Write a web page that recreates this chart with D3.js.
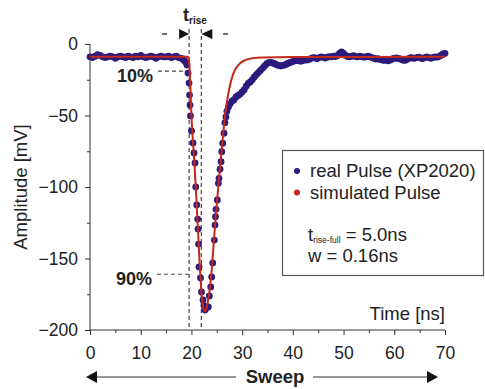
<!DOCTYPE html>
<html><head><meta charset="utf-8">
<script src="https://cdn.jsdelivr.net/npm/d3@7"></script>
<style>body{margin:0;background:#fff}svg{display:block}text{font-family:"Liberation Sans",Arial,sans-serif;fill:#222}</style>
</head><body><svg id="c" width="485" height="389"></svg>
<script>
// ---- data ----
const xTicks = [0,10,20,30,40,50,60,70];
const xMinorTicks = [5,15,25,35,45,55,65];
const yTicks = [0,-50,-100,-150,-200];
const yMinorTicks = [-25,-75,-125,-175];
// real pulse samples [time ns, amplitude mV]
const realPulse = [
[0,-9],[0.5,-9.5],[1,-8.5],[1.5,-7.5],[2,-8],[2.5,-9],[3,-9.5],[3.5,-9],[4,-8.5],[4.5,-9],[5,-10],[5.5,-9],[6,-8.5],[6.5,-9],[7,-9.5],[7.5,-8.5],[8,-9],[8.5,-9.5],[9,-8.5],[9.5,-9],[10,-8],[10.5,-9],[11,-9.5],[11.5,-9],[12,-8.5],[12.5,-9],[13,-10],[13.5,-9],[14,-8.5],[14.5,-9],[15,-9],[15.5,-8.5],[16,-9.5],[16.5,-9],[17,-8.5],[17.5,-9.5],[18,-10],
[18.3,-10.5],[18.6,-11.5],[18.9,-13],[19.13,-14.7],[19.33,-20.3],[19.53,-27.3],[19.63,-35.7],[19.72,-42.7],[19.82,-50.3],[20.02,-60.8],[20.32,-69.2],[20.51,-76.2],[20.71,-83.2],[20.85,-100],[21.05,-112.6],[21.24,-122.4],[21.3,-129.4],[21.4,-139.9],[21.5,-155.9],[21.79,-163.6],[21.99,-173.4],[22.29,-179],[22.49,-183.2],[22.68,-186],[22.88,-184.6],
[23.33,-183.9],[23.53,-176.2],[23.81,-169.9],[24.0,-162.9],[24.2,-153.1],[24.52,-137.1],[24.65,-126.6],[24.75,-120.8],[24.85,-115.6],[25.11,-109.1],[25.31,-97.4],[25.44,-93.9],[25.64,-87.6],[25.84,-82.3],[25.98,-75.3],[26.17,-69.4],[26.43,-62.4],
[26.6,-55],[26.8,-51],[27.0,-47],[27.3,-44],[27.6,-42],[28.0,-40],[28.4,-39],[28.8,-37],[29.2,-36],[29.6,-35],[30.0,-33.5],[30.4,-32],[30.8,-29.5],[31.2,-27.5],[31.6,-26.5],[32.0,-25],[32.4,-23],[32.8,-21.5],[33.2,-20],[33.6,-18.5],[34.0,-17],[34.4,-15.5],[34.8,-14],[35.2,-13],[35.6,-12.8],[36.0,-13.2],[36.4,-13.8],[36.8,-14.5],[37.2,-15],[37.6,-15.3],[38.0,-15],[38.4,-14.6],[38.8,-14],[39.2,-13.3],[39.6,-12.8],[40.0,-12.2],[40.4,-11.8],[40.8,-11.5],[41.2,-11.8],[41.6,-12],[42.0,-11.5],[42.4,-11],[42.8,-11.2],[43.2,-10.8],[43.6,-10],[44.0,-9.5],[44.4,-9.8],[44.8,-10.2],[45.2,-9.5],[45.6,-9],[46.0,-9.3],[46.4,-9.8],[46.8,-9.2],[47.2,-8.8],[47.6,-9],[48.0,-8.5],[48.4,-8.8],[48.8,-8],[49.2,-6.5],[49.6,-5.5],[50.0,-6.5],[50.4,-8],[50.8,-8.8],[51.2,-9],[51.6,-8.5],[52.0,-8.2],[52.4,-8.8],[52.8,-9],[53.2,-8.5],[53.6,-8.8],[54.0,-9.2],[54.4,-9],[54.8,-8.5],[55.2,-9],[55.6,-9.5],[56.0,-10],[56.4,-10.5],[56.8,-10.2],[57.2,-10.8],[57.6,-11],[58.0,-11.5],[58.4,-11],[58.8,-11.8],[59.2,-11.2],[59.6,-10.5],[60.0,-10],[60.4,-9.8],[60.8,-10.2],[61.2,-10.5],[61.6,-11],[62.0,-11.5],[62.4,-11],[62.8,-10.2],[63.2,-9.5],[63.6,-9.8],[64.0,-10],[64.4,-9.5],[64.8,-9.2],[65.2,-9.8],[65.6,-10.2],[66.0,-9.5],[66.4,-9],[66.8,-9.5],[67.2,-10],[67.6,-9.5],[68.0,-9],[68.4,-9.2],[68.8,-8.8],[69.2,-8],[69.6,-7],[70.0,-6.5]
];
// simulated pulse curve [time ns, amplitude mV]
const simPulse = [
[0,-9],[19.3,-9],[19.45,-10.5],[19.6,-16],[19.8,-30],[20.0,-50],[20.3,-68],[20.6,-84],[21.0,-110],[21.5,-145],[21.9,-170],[22.2,-181],[22.5,-186],[22.7,-187],[22.9,-186],[23.2,-181],[23.6,-172],[24.0,-158],[24.5,-134],[25.0,-112],[25.5,-92],[26.0,-73],[26.4,-58],[26.6,-51],[27.2,-36],[27.8,-26],[28.6,-18],[29.6,-13.5],[30.6,-11.3],[32,-10],[34,-9.4],[40,-9.1],[70,-9]
];
const riseMarks = [19.55, 21.95];   // dashed vertical lines (ns)
const levelMarks = [{label:"10%", v:-19, t0:13.4},{label:"90%", v:-161, t0:13.2}];
const legendItems = [{label:"real Pulse (XP2020)", color:"#2c1b7c"},{label:"simulated Pulse", color:"#c42a1c"}];

// ---- chart ----
const svg = d3.select("#c");
const x = d3.scaleLinear().domain([0,70]).range([90,445]);
const y = d3.scaleLinear().domain([-200,0]).range([330,44]);
const blue = "#2c1b7c", red = "#c42a1c", axisCol = "#333";

// axes
const gx = svg.append("g").attr("transform","translate(0,330)")
  .call(d3.axisBottom(x).tickValues(xTicks).tickSize(5).tickPadding(12).tickFormat(d3.format("d")));
svg.append("g").attr("transform","translate(0,330)")
  .call(d3.axisBottom(x).tickValues(xMinorTicks).tickSize(3).tickFormat("")).select(".domain").remove();
const gy = svg.append("g").attr("transform","translate(90,0)")
  .call(d3.axisLeft(y).tickValues(yTicks).tickSize(5).tickPadding(7).tickFormat(d3.format("d")));
svg.append("g").attr("transform","translate(90,0)")
  .call(d3.axisLeft(y).tickValues(yMinorTicks).tickSize(3).tickFormat("")).select(".domain").remove();
svg.selectAll(".domain").attr("stroke",axisCol);
gx.select(".domain").attr("d",`M${x(0)},0H${x(70)}`);
gy.select(".domain").attr("d",`M0,${y(-200)}V${y(0)}`);
svg.selectAll(".tick line").attr("stroke",axisCol);
svg.selectAll(".tick text").style("font-size","17.5px").style("font-family","'Liberation Sans',Arial,sans-serif").attr("fill","#222");

// axis titles
svg.append("text").attr("transform",`translate(27,${y(-100)}) rotate(-90)`).attr("text-anchor","middle")
  .style("font-size","18.5px").text("Amplitude [mV]");
svg.append("text").attr("x",x(70)).attr("y",320).attr("text-anchor","end").style("font-size","18.5px").text("Time [ns]");

// dashed annotation lines
riseMarks.forEach(t=>{
  svg.append("line").attr("x1",x(t)).attr("x2",x(t)).attr("y1",29).attr("y2",330)
    .attr("stroke","#444").attr("stroke-width",1.2).attr("stroke-dasharray","4,3");
});
levelMarks.forEach(m=>{
  svg.append("line").attr("x1",x(m.t0)).attr("x2",x(riseMarks[0])).attr("y1",y(m.v)).attr("y2",y(m.v))
    .attr("stroke","#444").attr("stroke-width",1.2).attr("stroke-dasharray","4,3");
  svg.append("text").attr("x",x(m.t0)-5).attr("y",y(m.v)+11).attr("text-anchor","end")
    .style("font-size","18px").style("font-weight","bold").text(m.label);
});

// data dots
svg.append("g").selectAll("circle").data(realPulse).join("circle")
  .attr("cx",d=>x(d[0])).attr("cy",d=>y(d[1])).attr("r",3.4).attr("fill",blue);
// simulated curve
svg.append("path").datum(simPulse).attr("fill","none").attr("stroke",red).attr("stroke-width",2)
  .attr("d",d3.line().x(d=>x(d[0])).y(d=>y(d[1])).curve(d3.curveMonotoneX));

// t_rise annotation
const tr = svg.append("text").attr("x",183).attr("y",21).style("font-weight","bold").style("font-size","18px");
tr.append("tspan").text("t");
tr.append("tspan").attr("dy",3).style("font-size","10px").text("rise");
const ay = 34;
svg.append("path").attr("d",`M${x(riseMarks[0])},${ay}L${x(riseMarks[0])-10},${ay-5}L${x(riseMarks[0])-10},${ay+5}Z`).attr("fill","#111");
svg.append("path").attr("d",`M${x(riseMarks[1])},${ay}L${x(riseMarks[1])+11},${ay-5}L${x(riseMarks[1])+11},${ay+5}Z`).attr("fill","#111");
svg.append("line").attr("x1",162).attr("x2",167).attr("y1",ay).attr("y2",ay).attr("stroke","#111").attr("stroke-width",1.2);
svg.append("line").attr("x1",223).attr("x2",228).attr("y1",ay).attr("y2",ay).attr("stroke","#111").attr("stroke-width",1.2);

// legend
const lg = svg.append("g");
lg.append("rect").attr("x",282.5).attr("y",150.5).attr("width",201).attr("height",125).attr("fill","#fff").attr("stroke","#555").attr("stroke-width",1.2);
legendItems.forEach((it,i)=>{
  lg.append("circle").attr("cx",297).attr("cy",171+i*21.5).attr("r",3).attr("fill",it.color);
  lg.append("text").attr("x",310).attr("y",177+i*21.5).style("font-size","18.5px").text(it.label);
});
const lt = lg.append("text").attr("x",308).attr("y",241).style("font-size","18.5px");
lt.append("tspan").text("t");
lt.append("tspan").attr("dy",2).style("font-size","8.5px").text("rise-full");
lt.append("tspan").attr("dy",-2).text(" = 5.0ns");
lg.append("text").attr("x",308).attr("y",262).style("font-size","18.5px").text("w = 0.16ns");

// Sweep arrow
const sy = 377;
svg.append("line").attr("x1",96).attr("x2",236).attr("y1",sy).attr("y2",sy).attr("stroke","#333");
svg.append("line").attr("x1",313).attr("x2",428).attr("y1",sy).attr("y2",sy).attr("stroke","#333");
svg.append("path").attr("d",`M86,${sy}L97,${sy-6}L97,${sy+6}Z`).attr("fill","#111");
svg.append("path").attr("d",`M438,${sy}L427,${sy-6}L427,${sy+6}Z`).attr("fill","#111");
svg.append("text").attr("x",275).attr("y",383).attr("text-anchor","middle").style("font-size","18.5px").style("font-weight","bold").text("Sweep");
</script></body></html>
